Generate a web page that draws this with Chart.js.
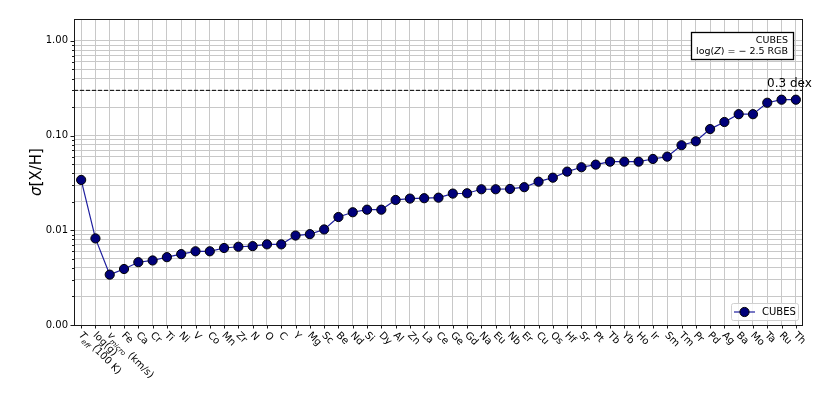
<!DOCTYPE html>
<html>
<head>
<meta charset="utf-8">
<script src="https://cdn.jsdelivr.net/npm/chart.js@4.4.1/dist/chart.umd.min.js"></script>
<style>
  html, body { margin: 0; padding: 0; background: #fff; }
  #wrap { width: 831px; height: 400px; }
</style>
</head>
<body>
<div id="wrap"><canvas id="sigmaChart" width="831" height="400"></canvas></div>
<script>
// ==== Data ====
const elements = [
  "T_{eff} (100 K)", "log(g)", "v_{micro} (km/s)", "Fe", "Ca", "Cr", "Ti", "Ni", "V", "Co",
  "Mn", "Zr", "N", "O", "C", "Y", "Mg", "Sc", "Be", "Nd",
  "Si", "Dy", "Al", "Zn", "La", "Ce", "Ge", "Gd", "Na", "Eu",
  "Nb", "Er", "Cu", "Os", "Hf", "Sr", "Pt", "Tb", "Yb", "Ho",
  "Ir", "Sm", "Tm", "Pr", "Pd", "Ag", "Ba", "Mo", "Ta", "Ru", "Th"
];
const sigmaCubes = [
  0.034, 0.0082, 0.0034, 0.0039, 0.0046, 0.0048, 0.0052, 0.0056, 0.0060, 0.0060,
  0.0065, 0.0067, 0.0068, 0.0071, 0.0071, 0.0088, 0.0091, 0.0102, 0.0138, 0.0155,
  0.0165, 0.0165, 0.0209, 0.0216, 0.0218, 0.0221, 0.0244, 0.0246, 0.0271, 0.0271,
  0.0273, 0.0285, 0.0326, 0.0359, 0.0416, 0.0463, 0.0493, 0.053, 0.053, 0.053,
  0.0566, 0.0599, 0.079, 0.087, 0.117, 0.139, 0.168, 0.168, 0.222, 0.239, 0.239
];
const yDecades = [0.001, 0.01, 0.1, 1];
const yMin = 0.001;
const yMax = 1.7;
const dexLimit = 0.3;
const dexLabel = "0.3 dex";
const seriesName = "CUBES";
const yTitle = "[X/H]";

const FONT = "'DejaVu Sans', sans-serif";
const GRID = "#c8c8c8";

// ==== Helpers ====
function isMajor(v) {
  const l = Math.log10(v);
  return Math.abs(l - Math.round(l)) < 1e-6;
}

function parseLabel(s) {
  const m = s.match(/^(.*?)_\{(.*?)\}(.*)$/);
  if (!m) return [{ t: s }];
  return [{ t: m[1], italic: true }, { t: m[2], italic: true, sub: true }, { t: m[3] }];
}

function partFont(p, size) {
  return (p.italic ? "italic " : "") + (p.sub ? Math.round(size * 0.7) : size) + "px " + FONT;
}

function richWidth(ctx, parts, size) {
  let w = 0;
  parts.forEach(p => { ctx.font = partFont(p, size); w += ctx.measureText(p.t).width; });
  return w;
}

function drawRich(ctx, parts, x, y, size) {
  parts.forEach(p => {
    ctx.font = partFont(p, size);
    ctx.fillText(p.t, x, p.sub ? y + size * 0.3 : y);
    x += ctx.measureText(p.t).width;
  });
}

// ==== Extra drawing (frame, labels, annotations) ====
const decorations = {
  id: "decorations",
  afterDatasetsDraw(chart) {
    const { ctx, chartArea: a, scales: { x, y } } = chart;
    const ds = chart.data.datasets[0];
    ctx.save();

    // 0.3 dex line
    const yd = y.getPixelForValue(dexLimit);
    ctx.strokeStyle = "#000";
    ctx.lineWidth = 1;
    ctx.setLineDash([4, 2]);
    ctx.beginPath();
    ctx.moveTo(a.left, yd);
    ctx.lineTo(a.right, yd);
    ctx.stroke();
    ctx.setLineDash([]);
    ctx.fillStyle = "#000";
    ctx.font = "12px " + FONT;
    ctx.textBaseline = "alphabetic";
    ctx.textAlign = "left";
    ctx.fillText(dexLabel, 767, yd - 3);

    // frame
    ctx.strokeStyle = "#1a1a1a";
    ctx.lineWidth = 1;
    ctx.strokeRect(a.left + 0.5, a.top + 0.5, a.right - a.left - 1, a.bottom - a.top);

    // tick marks
    ctx.beginPath();
    y.ticks.forEach(t => {
      const py = Math.round(y.getPixelForValue(t.value)) + 0.5;
      const len = isMajor(t.value) ? 3.5 : 2;
      ctx.moveTo(a.left - len, py);
      ctx.lineTo(a.left, py);
    });
    elements.forEach((_, i) => {
      const px = Math.round(x.getPixelForTick(i)) + 0.5;
      ctx.moveTo(px, a.bottom);
      ctx.lineTo(px, a.bottom + 3.5);
    });
    ctx.stroke();

    // rotated x labels
    ctx.fillStyle = "#000";
    ctx.textAlign = "left";
    ctx.textBaseline = "alphabetic";
    elements.forEach((lab, i) => {
      const px = x.getPixelForTick(i);
      ctx.save();
      ctx.translate(px + 3, a.bottom + 5);
      ctx.rotate(Math.PI / 4);
      drawRich(ctx, parseLabel(lab), 0, 8, 10);
      ctx.restore();
    });

    // y title
    ctx.save();
    ctx.translate(37, 172);
    ctx.rotate(-Math.PI / 2);
    const titleParts = [{ t: "σ", italic: true }, { t: yTitle }];
    const tw = richWidth(ctx, titleParts, 15);
    ctx.textBaseline = "middle";
    drawRich(ctx, titleParts, -tw / 2, 0, 15);
    ctx.restore();

    // annotation box
    ctx.fillStyle = "#fff";
    ctx.fillRect(691, 32, 103, 28);
    ctx.strokeStyle = "#000";
    ctx.lineWidth = 1.3;
    ctx.strokeRect(691.5, 32.5, 102, 27);
    ctx.fillStyle = "#000";
    ctx.textBaseline = "alphabetic";
    ctx.font = "9.5px " + FONT;
    ctx.textAlign = "right";
    ctx.fillText(seriesName, 788, 42.5);
    ctx.textAlign = "left";
    const zParts = [{ t: "log(" }, { t: "Z", italic: true }, { t: ") = − 2.5 RGB" }];
    const zw = richWidth(ctx, zParts, 9.5);
    drawRich(ctx, zParts, 788 - zw, 54, 9.5);

    // legend
    ctx.fillStyle = "rgba(255,255,255,0.8)";
    ctx.strokeStyle = "#d0d0d0";
    ctx.lineWidth = 1;
    ctx.beginPath();
    ctx.roundRect(731.5, 303.5, 67, 17, 2);
    ctx.fill();
    ctx.stroke();
    ctx.strokeStyle = ds.borderColor;
    ctx.lineWidth = ds.borderWidth;
    ctx.beginPath();
    ctx.moveTo(734, 312);
    ctx.lineTo(755, 312);
    ctx.stroke();
    ctx.fillStyle = ds.pointBackgroundColor;
    ctx.strokeStyle = ds.pointBorderColor;
    ctx.lineWidth = ds.pointBorderWidth;
    ctx.beginPath();
    ctx.arc(744.5, 312, ds.pointRadius, 0, Math.PI * 2);
    ctx.fill();
    ctx.stroke();
    ctx.fillStyle = "#000";
    ctx.font = "10px " + FONT;
    ctx.textBaseline = "middle";
    ctx.fillText(seriesName, 762, 312.5);

    ctx.restore();
  }
};

// ==== Chart Setup ====
const ctx = document.getElementById("sigmaChart").getContext("2d");

const chart = new Chart(ctx, {
  type: "line",
  data: {
    labels: elements,
    datasets: [{
      label: seriesName,
      data: sigmaCubes,
      borderColor: "#1e1e9e",
      borderWidth: 1.2,
      pointRadius: 4.6,
      pointHoverRadius: 4.6,
      pointBackgroundColor: "#00007a",
      pointBorderColor: "#000",
      pointBorderWidth: 1,
      tension: 0
    }]
  },
  options: {
    responsive: false,
    animation: false,
    devicePixelRatio: 1,
    layout: { padding: { top: 19, right: 28, bottom: 0, left: 0 } },
    plugins: { legend: { display: false }, tooltip: { enabled: false } },
    scales: {
      x: {
        type: "category",
        offset: true,
        grid: { color: GRID, lineWidth: 1, drawTicks: false, offset: false },
        border: { display: false },
        ticks: { display: false },
        afterFit: s => { s.height = 75; }
      },
      y: {
        type: "logarithmic",
        min: yMin,
        max: yMax,
        grid: { color: GRID, lineWidth: 1, drawTicks: false },
        border: { display: false },
        ticks: {
          autoSkip: false,
          padding: 6,
          color: "#000",
          font: { family: "DejaVu Sans", size: 10 },
          callback: v => isMajor(v) ? v.toFixed(2) : ""
        },
        afterBuildTicks: s => {
          const ticks = [];
          yDecades.forEach(d => {
            for (let k = 1; k <= 9; k++) {
              const v = +(k * d).toPrecision(6);
              if (v <= yMax) ticks.push({ value: v });
            }
          });
          s.ticks = ticks;
        },
        afterFit: s => { s.width = 74; }
      }
    }
  },
  plugins: [decorations]
});
</script>
</body>
</html>
